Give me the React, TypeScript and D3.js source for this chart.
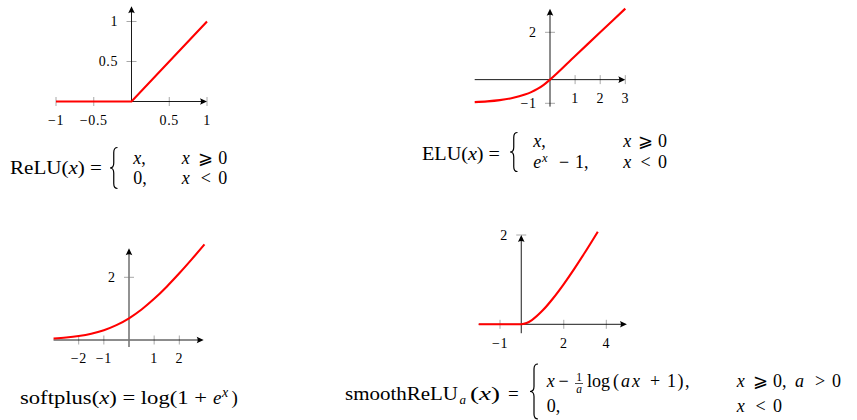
import React from "react";
import * as d3 from "d3";

const reluX = [-1, 0, 1];
const reluY = [0, 0, 1];
const reluXTicks = [-1, -0.5, 0.5, 1];
const reluYTicks = [0.5, 1];

const eluX = [-3, -2.5, -2, -1.5, -1, -0.75, -0.5, -0.25, 0, 1, 2, 3];
const eluY = [-0.95, -0.918, -0.865, -0.777, -0.632, -0.528, -0.393, -0.221, 0, 1, 2, 3];
const eluXTicks = [1, 2, 3];
const eluYTicks = [-1, 2];

const softplusX = [-3, -2.5, -2, -1.5, -1, -0.5, 0, 0.5, 1, 1.5, 2, 2.5, 3];
const softplusY = [0.049, 0.079, 0.127, 0.201, 0.313, 0.474, 0.693, 0.974, 1.313, 1.701, 2.127, 2.579, 3.049];
const softplusXTicks = [-2, -1, 1, 2];
const softplusYTicks = [2];

const smoothX = [-2, -1, 0, 0.25, 0.5, 1, 1.5, 2, 2.5, 3, 3.6];
const smoothY = [0, 0, 0, 0.027, 0.095, 0.307, 0.584, 0.901, 1.247, 1.614, 2.074];
const smoothXTicks = [-1, 2, 4];
const smoothYTicks = [2];

// ---------- styling ----------
const SERIF = "'Liberation Serif', 'Times New Roman', serif";
const RED = "#ff0000";
const TICK = "#a8a8a8";
const FS = 18;

const fmt = (v: number) => (v < 0 ? "\u2212" : "") + String(Math.abs(v));

type PanelProps = {
  xs: number[];
  ys: number[];
  xTicks: number[];
  yTicks: number[];
  xDom: [number, number];
  xRange: [number, number];
  yDom: [number, number];
  yRange: [number, number];
  xAxis: [number, number];
  yAxis: [number, number];
  yAxisColor?: string;
  yAxisWidth?: number;
  smooth?: boolean;
};

function Panel(p: PanelProps) {
  const x = d3.scaleLinear().domain(p.xDom).range(p.xRange);
  const y = d3.scaleLinear().domain(p.yDom).range(p.yRange);
  const x0 = x(0);
  const y0 = y(0);
  const pts = p.xs.map((v, i) => [v, p.ys[i]] as [number, number]);
  const line = d3
    .line<[number, number]>()
    .x((d) => x(d[0]))
    .y((d) => y(d[1]))
    .curve(p.smooth ? d3.curveMonotoneX : d3.curveLinear);
  const xa0 = x(p.xAxis[0]);
  const xa1 = x(p.xAxis[1]);
  const ya0 = y(p.yAxis[0]);
  const ya1 = y(p.yAxis[1]);
  const al = 7;
  const aw = 3.3;
  return (
    <g>
      {p.xTicks.map((t) => (
        <line key={"xt" + t} x1={x(t)} x2={x(t)} y1={y0 - 4.5} y2={y0 + 4.5} stroke={TICK} strokeWidth={1} />
      ))}
      {p.yTicks.map((t) => (
        <line key={"yt" + t} x1={x0 - 5} x2={x0 + 5} y1={y(t)} y2={y(t)} stroke={TICK} strokeWidth={1} />
      ))}
      <line x1={xa0} x2={xa1 - 3} y1={y0} y2={y0} stroke="#000" strokeWidth={0.9} />
      <path
        d={`M${xa1},${y0} L${xa1 - al},${y0 - aw} Q${xa1 - 5},${y0} ${xa1 - al},${y0 + aw} Z`}
        fill="#000"
      />
      <line
        x1={x0}
        x2={x0}
        y1={ya0}
        y2={ya1 + 3}
        stroke={p.yAxisColor || "#000"}
        strokeWidth={p.yAxisWidth || 0.9}
      />
      <path
        d={`M${x0},${ya1} L${x0 - aw},${ya1 + al} Q${x0},${ya1 + 5} ${x0 + aw},${ya1 + al} Z`}
        fill="#000"
      />
      {p.xTicks.map((t) => (
        <text
          key={"xl" + t}
          x={x(t)}
          y={y0 + 23.3}
          textAnchor="middle"
          fontFamily={SERIF}
          fontSize={14}
          letterSpacing={0.6}
          fill="#000"
        >
          {fmt(t)}
        </text>
      ))}
      {p.yTicks.map((t) => (
        <text
          key={"yl" + t}
          x={x0 - 13.5}
          y={y(t) + 4.6}
          textAnchor="end"
          fontFamily={SERIF}
          fontSize={14}
          letterSpacing={0.6}
          fill="#000"
        >
          {fmt(t)}
        </text>
      ))}
      <path d={line(pts) || ""} fill="none" stroke={RED} strokeWidth={2.1} />
    </g>
  );
}

function bracePath(xl: number, y0: number, y1: number, w: number) {
  const xm = xl + w * 0.5;
  const xr = xl + w;
  const ym = (y0 + y1) / 2;
  const r = Math.min(5, (y1 - y0) / 8);
  return `M${xr},${y0} Q${xm},${y0} ${xm},${y0 + r} L${xm},${ym - r} Q${xm},${ym} ${xl},${ym} Q${xm},${ym} ${xm},${ym + r} L${xm},${y1 - r} Q${xm},${y1} ${xr},${y1}`;
}

const It = ({ children }: { children: React.ReactNode }) => <tspan fontStyle="italic">{children}</tspan>;

function T(props: any) {
  const { children, ...rest } = props;
  return (
    <text fontFamily={SERIF} fontSize={FS} fill="#000" lengthAdjust="spacingAndGlyphs" {...rest}>
      {children}
    </text>
  );
}

// relation "x REL 0" laid out at measured positions
function Rel({ x, y, rel, relX, zeroX }: { x: number; y: number; rel: string; relX: number; zeroX: number }) {
  return (
    <text fontFamily={SERIF} fontSize={FS} fill="#000">
      <tspan x={x} y={y} fontStyle="italic">
        x
      </tspan>
      <tspan x={relX} y={y} textAnchor="middle">
        {rel}
      </tspan>
      <tspan x={zeroX} y={y}>
        0
      </tspan>
    </text>
  );
}

export default function App() {
  return (
    <svg
      width={857}
      height={420}
      viewBox="0 0 857 420"
      style={{ position: "absolute", left: 0, top: 0, background: "#fff" }}
    >
      <rect x={0} y={0} width={857} height={420} fill="#fff" />
      {/* ReLU */}
      <Panel
        xs={reluX}
        ys={reluY}
        xTicks={reluXTicks}
        yTicks={reluYTicks}
        xDom={[-1, 1]}
        xRange={[56, 207]}
        yDom={[0, 1]}
        yRange={[101.5, 21.5]}
        xAxis={[-1, 1]}
        yAxis={[0, 1.19]}
      />
      {/* ELU */}
      <Panel
        xs={eluX}
        ys={eluY}
        xTicks={eluXTicks}
        yTicks={eluYTicks}
        xDom={[-3, 3]}
        xRange={[474.7, 625.3]}
        yDom={[-1, 2]}
        yRange={[103.3, 32.3]}
        xAxis={[-3, 3]}
        yAxis={[-1.14, 3.0]}
        smooth
      />
      {/* softplus */}
      <Panel
        xs={softplusX}
        ys={softplusY}
        xTicks={softplusXTicks}
        yTicks={softplusYTicks}
        xDom={[-2, 2]}
        xRange={[78.7, 179.3]}
        yDom={[0, 2]}
        yRange={[340, 277.3]}
        xAxis={[-3, 2.97]}
        yAxis={[-0.22, 2.93]}
        yAxisColor="#777"
        yAxisWidth={1.6}
        smooth
      />
      {/* smoothReLU */}
      <Panel
        xs={smoothX}
        ys={smoothY}
        xTicks={smoothXTicks}
        yTicks={smoothYTicks}
        xDom={[-1, 4]}
        xRange={[500, 606.3]}
        yDom={[0, 2]}
        yRange={[324.3, 235]}
        xAxis={[-2, 4.97]}
        yAxis={[-0.2, 2]}
        smooth
      />

      {/* ReLU formula */}
      <T x={10} y={174} textLength={92} fontSize={19}>
        ReLU(<It>x</It>) =
      </T>
      <path d={bracePath(110, 147.5, 188.5, 7.5)} fill="none" stroke="#000" strokeWidth={1.2} />
      <T x={133.3} y={164}>
        <It>x</It>,
      </T>
      <Rel x={181.7} y={164} rel="⩾" relX={205.8} zeroX={218.3} />
      <T x={133.3} y={183.5}>
        0,
      </T>
      <Rel x={181.7} y={183.5} rel="<" relX={205.8} zeroX={218.3} />

      {/* ELU formula */}
      <T x={422} y={159.5} textLength={78} fontSize={19}>
        ELU(<It>x</It>) =
      </T>
      <path d={bracePath(510, 132.5, 171.5, 7.5)} fill="none" stroke="#000" strokeWidth={1.2} />
      <T x={533.3} y={146.8}>
        <It>x</It>,
      </T>
      <Rel x={623.3} y={146.8} rel="⩾" relX={645.5} zeroX={658} />
      <text fontFamily={SERIF} fontSize={FS} fill="#000">
        <tspan x={533.3} y={167.5} fontStyle="italic">
          e
        </tspan>
        <tspan x={542} y={162} fontStyle="italic" fontSize={12.5}>
          x
        </tspan>
        <tspan x={564} y={167.5} textAnchor="middle">
          −
        </tspan>
        <tspan x={575} y={167.5}>
          1,
        </tspan>
      </text>
      <Rel x={623.3} y={167.5} rel="<" relX={645.5} zeroX={658} />

      {/* softplus formula */}
      <text fontFamily={SERIF} fontSize={19} fill="#000">
        <tspan x={20} y={403.5} textLength={187} lengthAdjust="spacingAndGlyphs">
          softplus(<tspan fontStyle="italic">x</tspan>) = log(1 +
        </tspan>
        <tspan x={213} y={403.5} fontStyle="italic">
          e
        </tspan>
        <tspan x={222} y={396.5} fontStyle="italic" fontSize={14}>
          x
        </tspan>
        <tspan x={231.5} y={403.5}>
          )
        </tspan>
      </text>

      {/* smoothReLU formula */}
      <text fontFamily={SERIF} fontSize={19} fill="#000">
        <tspan x={345} y={399.5} textLength={113} lengthAdjust="spacingAndGlyphs">
          smoothReLU
        </tspan>
        <tspan x={459.5} y={404} fontSize={13} fontStyle="italic">
          a
        </tspan>
        <tspan x={470} y={399.5} textLength={30} lengthAdjust="spacingAndGlyphs">
          (<tspan fontStyle="italic">x</tspan>)
        </tspan>
        <tspan x={508} y={399.5}>
          =
        </tspan>
      </text>
      <path d={bracePath(530, 364, 419, 8)} fill="none" stroke="#000" strokeWidth={1.2} />
      <text fontFamily={SERIF} fontSize={FS} fill="#000">
        <tspan x={546.7} y={387} fontStyle="italic">
          x
        </tspan>
        <tspan x={563.5} y={387} textAnchor="middle">
          −
        </tspan>
        <tspan x={587} y={387}>
          log
        </tspan>
        <tspan x={613} y={387}>
          (
        </tspan>
        <tspan x={621} y={387} fontStyle="italic">
          a
        </tspan>
        <tspan x={632} y={387} fontStyle="italic">
          x
        </tspan>
        <tspan x={655} y={387} textAnchor="middle">
          +
        </tspan>
        <tspan x={667} y={387} letterSpacing={1.5}>
          1),
        </tspan>
      </text>
      <text fontFamily={SERIF} fontSize={11.5} fill="#000" textAnchor="middle">
        <tspan x={579} y={380.5}>
          1
        </tspan>
      </text>
      <line x1={575} x2={583} y1={383.5} y2={383.5} stroke="#000" strokeWidth={0.7} />
      <text fontFamily={SERIF} fontSize={11.5} fill="#000" textAnchor="middle" fontStyle="italic">
        <tspan x={579} y={393}>
          a
        </tspan>
      </text>
      <text fontFamily={SERIF} fontSize={FS} fill="#000">
        <tspan x={736.7} y={387} fontStyle="italic">
          x
        </tspan>
        <tspan x={760.5} y={387} textAnchor="middle">
          ⩾
        </tspan>
        <tspan x={773} y={387}>
          0,
        </tspan>
        <tspan x={795} y={387} fontStyle="italic">
          a
        </tspan>
        <tspan x={820} y={387} textAnchor="middle">
          &gt;
        </tspan>
        <tspan x={832} y={387}>
          0
        </tspan>
      </text>
      <T x={546.7} y={412}>
        0,
      </T>
      <Rel x={736.7} y={412} rel="<" relX={760.5} zeroX={773} />
    </svg>
  );
}
